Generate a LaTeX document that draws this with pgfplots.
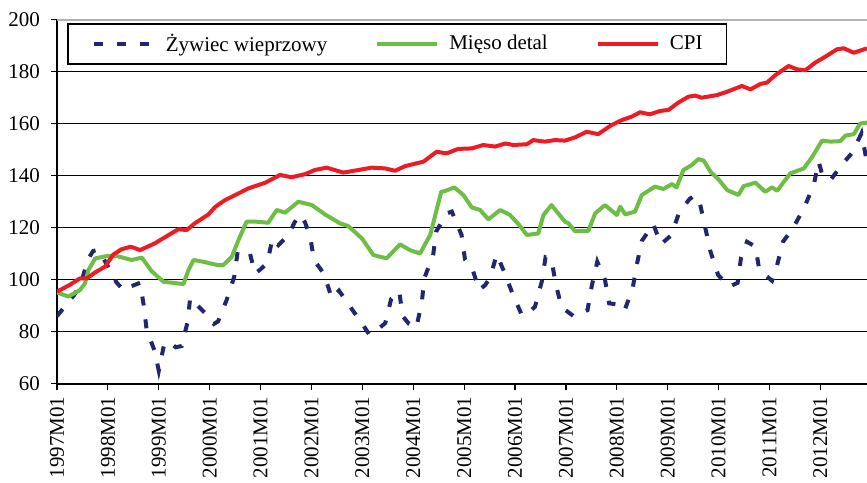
\documentclass[border=0pt]{standalone}
\usepackage{pgfplots}
\pgfplotsset{compat=1.18}
\usepackage{fontspec}
\setmainfont{Liberation Serif}
\definecolor{zyw}{RGB}{35,38,110}
\definecolor{mie}{RGB}{108,190,69}
\definecolor{cpi}{RGB}{237,28,36}
\newcommand{\fs}{\fontsize{10.5}{12.6}\selectfont}
\begin{document}
\begin{tikzpicture}
\begin{axis}[
  scale only axis,
  width=405pt, height=182pt,
  xmin=0, xmax=191, ymin=60, ymax=200,
  axis x line*=bottom, axis y line*=left,
  axis line style={black, line width=0.8pt, -},
  tick align=outside,
  major tick length=3pt,
  tick style={black, line width=0.6pt},
  xtick={0,12,...,180},
  xticklabels={1997M01,1998M01,1999M01,2000M01,2001M01,2002M01,2003M01,2004M01,2005M01,2006M01,2007M01,2008M01,2009M01,2010M01,2011M01,2012M01},
  x tick label style={rotate=90, anchor=east, font=\fs},
  ytick={60,80,...,180},
  extra y ticks={200},
  extra y tick style={grid style={gray!60, line width=0.8pt}},
  y tick label style={font=\fs, xshift=-2pt},
  /pgf/number format/assume math mode=true,
  ymajorgrids,
  grid style={black, line width=0.7pt},
  legend columns=3,
  legend image code/.code={\draw[#1] (0pt,0pt) -- (30pt,0pt);},
  legend style={
    at={(axis description cs:0.0123,0.991)}, anchor=north west,
    draw=black, line width=0.8pt, fill=white,
    font=\fs, inner xsep=12pt, inner ysep=5pt,
    nodes={inner sep=0pt},
    /tikz/every odd column/.append style={column sep=5pt},
    /tikz/every even column/.append style={column sep=24pt},
  },
]
\addplot[zyw, line width=2pt, dash pattern=on 4.5pt off 7pt, line cap=butt] coordinates {
(0,86) (1,88) (2.7,91.5) (4,94) (5.7,98.6) (7.2,107.6) (8.5,111) (9.6,111.5) (11,108)
(12.7,103.1) (14,99) (15.8,95.8) (17.5,97.5) (19.6,98.8) (20.4,90.6) (21.1,81.3) (22,77)
(23,72.7) (24,65) (25.3,75.5) (26.5,76) (28,74) (29.4,74.5) (30.8,83.8) (31.4,93) (33,90.3)
(35,87) (37,83) (38,84) (40,92.2) (41.8,101.2) (42.6,110.8) (44,111) (45.5,110.1) (46.7,102.4)
(48,104) (49.6,106.5) (50.8,115.9) (52.2,113.3) (54.6,117.2) (56,122) (57.3,125) (58.5,122)
(59.7,116.5) (60.6,107.6) (63,102.1) (64.8,92.8) (66.5,95.8) (69,89.9) (71.9,83.2) (73.6,79)
(75,80) (77.4,83.3) (78.8,92.6) (80.7,95.6) (81.5,86) (83,83) (84.7,81.5) (86,90.9) (86.6,100.5)
(88.7,109.5) (89.4,118.5) (91.9,125.5) (93.1,126.2) (95.4,117.2) (96.2,107.8) (98,104) (99.5,96)
(101,98) (102.1,100.8) (103.7,109.7) (105.6,102.4) (107.4,94.7) (109.6,86.4) (111,87) (112.7,89.6)
(114.3,99.2) (115.2,108.6) (116.6,107.8) (117.6,98.3) (119,89.4) (121.8,86) (125.1,88.3)
(126.1,97.6) (127.4,106.9) (129.2,100.1) (130.2,90.9) (132.2,90.5) (133.8,88.1) (135.7,96.3)
(136.7,105.6) (137.9,114.9) (140.6,121.4) (142.4,113.6) (144.9,117.2) (146.7,125.9) (149.1,130.9)
(150.3,132.5) (151.6,129.4) (152.9,119.7) (154.1,110.8) (155.9,101.8) (158.5,97.3) (160.5,98.8)
(161.3,108.6) (162.7,114.6) (164.7,112.7) (165.6,103.7) (168.6,99.6) (169.8,105.6) (171.2,114.6)
(173.6,120) (176.1,127.4) (178.4,136.2) (179.6,145.4) (180.6,139.4) (182.5,138.6) (185.3,144.7)
(187.5,148.8) (189.7,156.3) (191,145)
};
\addlegendentry{Żywiec wieprzowy}
\addplot[mie, line width=2pt, line join=round] coordinates {
(0,95.1) (2.7,93.5) (5.4,96) (6.6,98.6) (7.4,103.7) (9,108.2) (12.1,109.2) (14.1,109.1)
(17.6,107.6) (20,108.5) (22.3,103.3) (25.1,99.2) (27.4,98.8) (29.8,98.3) (31,103.7) (32.2,107.6)
(34.5,106.9) (38,105.6) (39.2,105.6) (41.2,108.8) (42.8,115.3) (44.7,122.3) (47.1,122.3)
(49.8,121.9) (51.8,126.8) (53.8,125.8) (56.9,130) (60.1,128.7) (63.2,125.1) (66.7,121.7)
(68.7,120.6) (71.9,115.9) (74.6,109.5) (77.7,108.2) (80.9,113.6) (83.2,111.4) (85.6,110.1)
(88,117.2) (89.5,126.8) (90.6,133.8) (91.5,134.1) (93.7,135.5) (95.8,132.6) (97.8,127.8)
(99.8,126.8) (101.7,123.2) (104.5,126.8) (106.8,124.9) (108.8,121.4) (110.8,117.2) (113.5,117.8)
(114.7,124.9) (116.6,128.7) (119.8,122.3) (120.6,121.7) (122.1,118.7) (125.3,118.8) (126.9,125.5)
(129.2,128.7) (132,124.9) (132.8,128.1) (134,125.1) (136.3,126.2) (137.9,132.6) (141,135.8)
(143,134.9) (145,136.8) (146.1,135.5) (147.7,142.2) (149.7,144.1) (151.2,146.4) (152.5,145.8)
(154.1,141.5) (156,138.6) (158,134.5) (160.7,132.6) (161.9,136) (164.7,137.3) (167,133.8)
(168.6,135.5) (169.8,134.2) (172.9,140.9) (176.1,142.8) (178.1,147.3) (180.4,153.5) (182.4,153.1)
(184.7,153.3) (185.9,155.4) (187.9,156) (189.4,160.1) (191,160.4)
};
\addlegendentry{Mięso detal}
\addplot[cpi, line width=2pt, line join=round] coordinates {
(0,95.4) (3,98) (5.4,100.5) (7,100.5) (9,102.8) (11.3,105) (13.3,109.7) (15.2,111.7) (17.4,112.7)
(19.6,111.4) (23.1,114) (24.7,115.6) (28.6,119.4) (30.6,119.1) (32.5,121.7) (35.7,125.1)
(37.3,128) (39.6,130.6) (42.8,133.2) (45.1,135.1) (49.1,137.3) (52.6,140.3) (55.3,139.4)
(58.5,140.6) (60.8,142.2) (63.6,143.1) (67.5,141.2) (71.1,142.2) (74.2,143.1) (77.4,142.8)
(79.7,141.9) (82.1,143.7) (86.4,145.4) (89.5,149.2) (91.9,148.6) (94.6,150.3) (97.8,150.5)
(100.5,151.8) (103.3,151.2) (105.7,152.4) (107.6,151.8) (110.8,152.1) (112.3,153.7) (115,153.1)
(117.4,153.7) (119.8,153.5) (122.1,154.7) (124.9,156.9) (127.6,156) (130.8,159.5) (133.2,161.4)
(135.5,162.7) (137.5,164.4) (139.8,163.6) (142.2,164.9) (144.2,165.3) (146.5,168.1) (148.9,170.4)
(150.5,170.8) (152,170) (155.6,171) (158,172.3) (161.5,174.5) (163.5,173.2) (165.9,175.3)
(167.4,175.8) (169.4,178.7) (172.5,182.2) (174.5,180.9) (176.5,180.6) (178.8,183.5) (181.2,185.8)
(183.9,188.6) (185.5,189) (187.9,187.3) (191,189)
};
\addlegendentry{CPI}
\coordinate (ll) at (rel axis cs:0,0);
\coordinate (ur) at (rel axis cs:1,1);
\end{axis}
\pgfresetboundingbox
\path ([xshift=-28.5pt,yshift=-49.5pt]ll) rectangle ([yshift=9.85pt]ur);
\end{tikzpicture}
\end{document}
